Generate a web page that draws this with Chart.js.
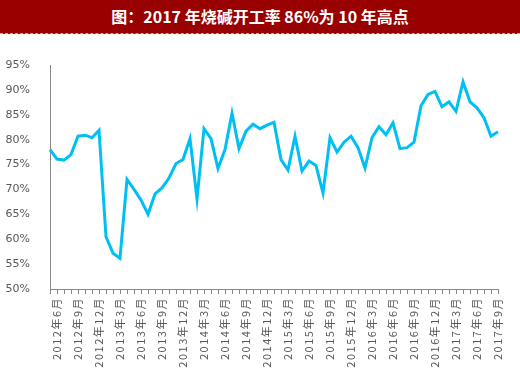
<!DOCTYPE html>
<html>
<head>
<meta charset="utf-8">
<script src="https://cdn.jsdelivr.net/npm/chart.js@4/dist/chart.umd.min.js"></script>
<style>
  html, body { margin: 0; padding: 0; background: #fff; }
  #wrap { width: 520px; height: 375px; position: relative; overflow: hidden; }
  #title { position: absolute; left: 0; top: 0; width: 520px; height: 33px; background: #990000;
           color: #fff; font: bold 16px "Noto Sans CJK SC", sans-serif; text-align: center; line-height: 33px;
           border-bottom: 1px dashed #9fb3d6; }
  #box { position: absolute; left: 0; top: 35px; width: 520px; height: 340px; }
</style>
</head>
<body>
<div id="wrap">
  <div id="title">图：2017 年烧碱开工率 86%为 10 年高点</div>
  <div id="box"><canvas id="c" width="520" height="340"></canvas></div>
</div>
<script>
const categories = [
  "2012年5月","2012年6月","2012年7月","2012年8月","2012年9月","2012年10月","2012年11月","2012年12月",
  "2013年1月","2013年2月","2013年3月","2013年4月","2013年5月","2013年6月","2013年7月","2013年8月","2013年9月","2013年10月","2013年11月","2013年12月",
  "2014年1月","2014年2月","2014年3月","2014年4月","2014年5月","2014年6月","2014年7月","2014年8月","2014年9月","2014年10月","2014年11月","2014年12月",
  "2015年1月","2015年2月","2015年3月","2015年4月","2015年5月","2015年6月","2015年7月","2015年8月","2015年9月","2015年10月","2015年11月","2015年12月",
  "2016年1月","2016年2月","2016年3月","2016年4月","2016年5月","2016年6月","2016年7月","2016年8月","2016年9月","2016年10月","2016年11月","2016年12月",
  "2017年1月","2017年2月","2017年3月","2017年4月","2017年5月","2017年6月","2017年7月","2017年8月","2017年9月"
];
const operatingRate = [
  78.0, 76.1, 75.9, 77.0, 80.7, 80.9, 80.4, 81.9,
  60.5, 57.2, 56.2, 72.0, 70.0, 67.9, 65.0, 69.1, 70.3, 72.3, 75.2, 76.0,
  80.2, 68.1, 82.2, 80.2, 74.2, 78.0, 85.3, 78.2, 81.7, 83.1, 82.2, 82.9,
  83.5, 76.0, 73.9, 80.7, 73.7, 75.7, 74.8, 69.3, 80.4, 77.5, 79.5, 80.7,
  78.4, 74.3, 80.4, 82.6, 81.0, 83.4, 78.2, 78.4, 79.5, 86.8, 89.1, 89.7,
  86.6, 87.6, 85.7, 91.6, 87.6, 86.4, 84.4, 80.7, 81.6
];
const yTicks = [50, 55, 60, 65, 70, 75, 80, 85, 90, 95];

const chart = new Chart(document.getElementById('c'), {
  type: 'line',
  data: {
    labels: categories,
    datasets: [{
      data: operatingRate,
      borderColor: '#00bff3',
      borderWidth: 3,
      pointRadius: 0,
      tension: 0,
      fill: false
    }]
  },
  options: {
    responsive: false,
    animation: false,
    events: [],
    layout: { padding: { left: 0, right: 22, top: 30, bottom: 0 } },
    plugins: { legend: { display: false }, tooltip: { enabled: false } },
    scales: {
      x: {
        offset: false,
        grid: { display: true, drawOnChartArea: false, drawTicks: true, tickLength: 5, color: '#888' },
        border: { display: true, color: '#888', width: 1 },
        ticks: {
          autoSkip: false, maxRotation: 90, minRotation: 90, padding: 3,
          color: '#595959', font: { size: 11, family: '"Noto Sans CJK SC", sans-serif' },
          callback: function (v, i) { return i % 3 === 1 ? categories[i] : ''; }
        },
        afterFit: function (s) { s.height = 86; }
      },
      y: {
        min: 50, max: 95,
        afterBuildTicks: function (s) { s.ticks = yTicks.map(v => ({ value: v })); },
        grid: { display: false },
        border: { display: true, color: '#888', width: 1 },
        ticks: {
          color: '#595959', padding: 12,
          font: { size: 11, family: '"DejaVu Sans", sans-serif' },
          callback: function (v) { return v + '%'; }
        },
        afterFit: function (s) { s.width = 50; }
      }
    }
  }
});

// spread the x-axis label characters a little, like the reference
const xs = chart.scales.x;
const origDrawLabels = xs.drawLabels.bind(xs);
xs.drawLabels = function (area) {
  const ctx = chart.ctx;
  ctx.save();
  ctx.letterSpacing = '1.5px';
  origDrawLabels(area);
  ctx.restore();
};
chart.draw();
</script>
</body>
</html>
